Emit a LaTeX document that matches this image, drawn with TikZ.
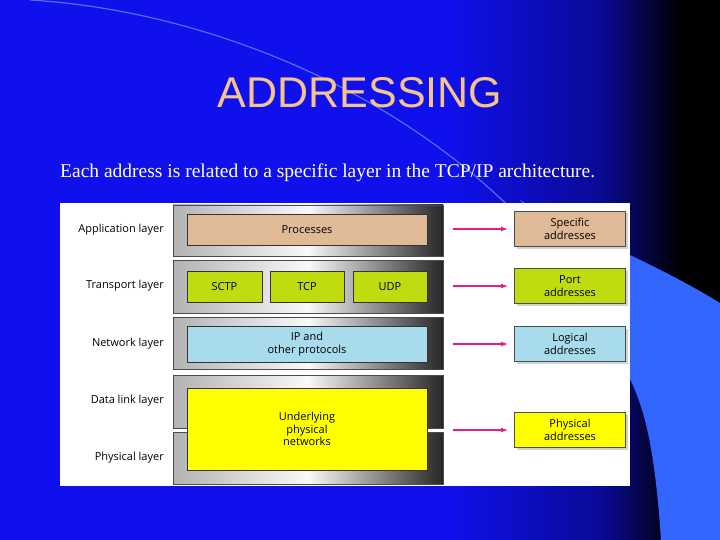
\documentclass[tikz,border=0pt]{standalone}
\usepackage{fontspec}
\setsansfont{Open Sans}
\newfontfamily\titlefont{Liberation Sans}
\newfontfamily\subfont{Liberation Serif}
\definecolor{bgA}{RGB}{16,16,236}
\definecolor{bgB}{RGB}{10,10,150}
\definecolor{lblue}{RGB}{51,102,255}
\definecolor{ttl}{RGB}{245,195,140}
\definecolor{proc}{RGB}{224,186,150}
\definecolor{grn}{RGB}{192,220,16}
\definecolor{cyanb}{RGB}{168,220,236}
\definecolor{yel}{RGB}{255,255,0}
\definecolor{arr}{RGB}{224,32,127}
\usetikzlibrary{shadows,arrows.meta}
\tikzset{
 strip/.style={draw=black!70,line width=0.6pt,left color=gray!60,right color=black!85,middle color=white!95!gray},
 inner/.style={draw=black!80,line width=0.6pt,font=\sffamily\fontsize{11}{12.5}\selectfont,align=center,inner sep=0pt},
 lay/.style={font=\sffamily\fontsize{11}{12}\selectfont,anchor=east,inner sep=1pt},
 addr/.style={draw=black!70,line width=0.6pt,font=\sffamily\fontsize{11}{12.5}\selectfont,align=center,inner sep=0pt,minimum width=111pt,minimum height=35pt,drop shadow={shadow xshift=2pt,shadow yshift=-2pt,fill=gray!70}},
 ar/.style={-{Latex[length=7pt,width=5pt]},draw=arr,line width=1.2pt}
}
\begin{document}
\begin{tikzpicture}[x=1pt,y=-1pt]
\useasboundingbox (0,0) rectangle (720,540);
\fill[bgA] (0,0) rectangle (451,540);
\shade[left color=bgA,right color=bgB] (450,0) rectangle (601,540);
\shade[left color=bgB,right color=black] (600,0) rectangle (681,540);
\fill[black] (680,0) rectangle (720,540);
\fill[lblue] (520,200) .. controls (580,235) and (650,260) .. (720,303) -- (720,540) -- (661,540) .. controls (655,450) and (645,410) .. (630,379) -- (600,300) -- cycle;
\draw[lblue!70!white,line width=1.2pt,opacity=0.7] (30,0) .. controls (200,10) and (420,90) .. (560,262);
\node[font=\titlefont\fontsize{43}{46}\selectfont,text=ttl] (title) at (360,93) {ADDRESSING};
\node[font=\subfont\fontsize{19.5}{21}\selectfont,text=white,anchor=west,inner sep=0pt] (sub) at (60,173) {Each address is related to a specific layer in the TCP/IP architecture.};
\fill[white] (60,203) rectangle (630,486);
\shade[strip] (173,205) rectangle (443,256);
\shade[strip] (173,260) rectangle (443,313);
\shade[strip] (173,317) rectangle (443,369);
\shade[strip] (173,375) rectangle (443,428);
\shade[strip] (173,432) rectangle (443,484);
\node[inner,fill=proc,minimum width=240pt,minimum height=31pt] (processes) at (307,229.5) {Processes};
\node[inner,fill=grn,minimum width=75pt,minimum height=31pt] (sctp) at (224.5,286.5) {SCTP};
\node[inner,fill=grn,minimum width=74pt,minimum height=31pt] (tcp) at (307,286.5) {TCP};
\node[inner,fill=grn,minimum width=74pt,minimum height=31pt] (udp) at (390,286.5) {UDP};
\node[inner,fill=cyanb,minimum width=240pt,minimum height=36pt] (ip) at (307,344) {IP and\\other protocols};
\node[inner,fill=yel,minimum width=240pt,minimum height=82pt] (phys) at (307,429) {Underlying\\physical\\networks};
\node[lay] (l1) at (165,230) {Application layer};
\node[lay] (l2) at (165,286) {Transport layer};
\node[lay] (l3) at (165,344) {Network layer};
\node[lay] (l4) at (165,401) {Data link layer};
\node[lay] (l5) at (165,458) {Physical layer};
\node[addr,fill=proc] (a1) at (570,229) {Specific\\addresses};
\node[addr,fill=grn] (a2) at (570,286) {Port\\addresses};
\node[addr,fill=cyanb] (a3) at (570,344) {Logical\\addresses};
\node[addr,fill=yel] (a4) at (570,430) {Physical\\addresses};
\coordinate (s1) at (453,229); \coordinate (s2) at (453,286);
\coordinate (s3) at (453,344); \coordinate (s4) at (453,430);
\coordinate (e1) at (508,229); \coordinate (e2) at (508,286);
\coordinate (e3) at (508,344); \coordinate (e4) at (508,430);
\draw[ar] (s1) -- (e1);
\draw[ar] (s2) -- (e2);
\draw[ar] (s3) -- (e3);
\draw[ar] (s4) -- (e4);
\end{tikzpicture}
\end{document}
